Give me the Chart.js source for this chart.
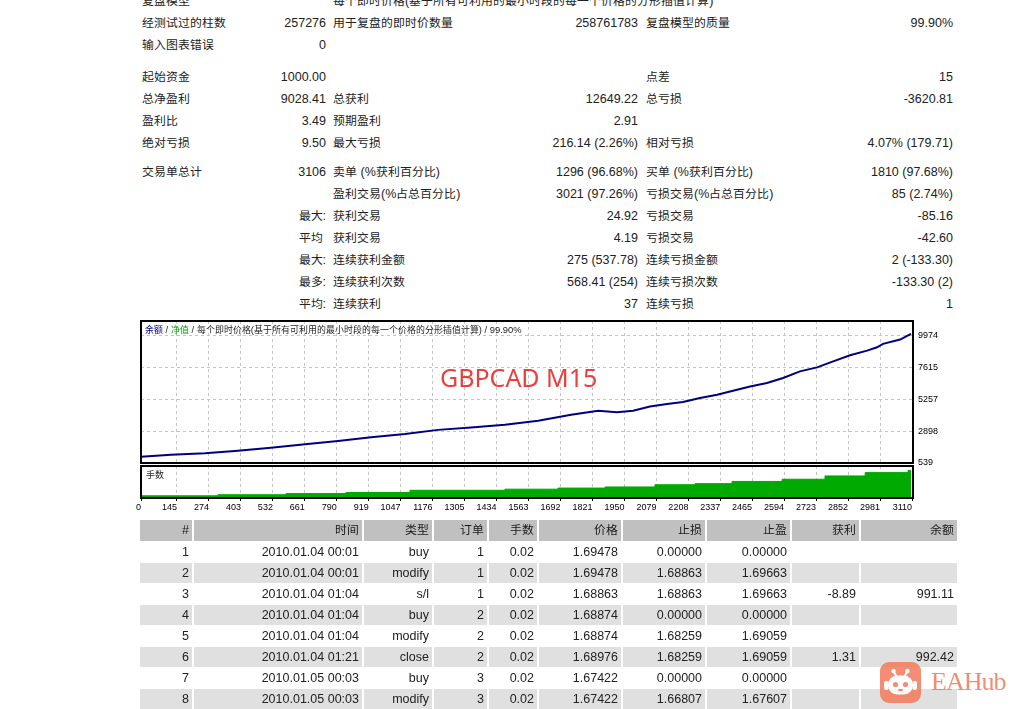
<!DOCTYPE html>
<html>
<head>
<meta charset="utf-8">
<script src="https://cdn.jsdelivr.net/npm/chart.js@4.4.1/dist/chart.umd.min.js"></script>
<style>
@font-face {
  font-family: "CjkAdj";
  src: local("Noto Sans CJK SC"), local("Noto Sans CJK SC Regular"), local("NotoSansCJKsc-Regular");
  size-adjust: 95%;
  unicode-range: U+2E80-9FFF, U+3000-303F, U+FF00-FFEF;
}
html, body { margin: 0; padding: 0; background: #fff; }
body {
  width: 1021px; height: 709px; overflow: hidden; position: relative;
  font: 12.5px "Liberation Sans", "CjkAdj", "Noto Sans CJK SC", sans-serif;
  color: #222;
}
.stats { position: absolute; left: 140px; top: -10px; border-collapse: collapse; table-layout: fixed; width: 816px; }
.stats td { height: 22px; line-height: 22px; padding: 0; white-space: nowrap; overflow: visible; }
.stats td.l1 { padding-left: 2px; }
.stats td.v1 { text-align: right; padding-right: 3px; }
.stats td.l2 { padding-left: 4px; }
.stats td.v2 { text-align: right; padding-right: 3px; }
.stats td.l3 { padding-left: 5px; }
.stats td.v3 { text-align: right; padding-right: 3px; }
.stats tr.sp td { height: 9.5px; line-height: 0; }
.stats tr.sp2 td { height: 7.5px; line-height: 0; }

.trades { position: absolute; left: 138px; top: 518.5px; border-collapse: separate; border-spacing: 2px 1px; table-layout: fixed; }
.trades td { height: 20px; line-height: 20px; padding: 0 3px 0 0; text-align: right; white-space: nowrap; }
.trades tr.hd td { height: 21px; line-height: 21px; background: #c0c0c0; color: #1a1a1a; }
.trades tr.g td { background: #e0e0e0; }

canvas { position: absolute; }
#balanceChart { left: 130px; top: 318px; }
#lotsChart { left: 130px; top: 462px; }
.ovl { position: absolute; white-space: nowrap; }
#legend { left: 145px; top: 324px; font-size: 9.4px; line-height: 12px; color: #222; }
#legend .b { color: #000080; }
#legend .e { color: #00a000; }
#symbol { left: 440px; top: 361px; font: 25px "Noto Sans", sans-serif; line-height: 32px; color: #e8403c; }
#lotsLabel { left: 146px; top: 469px; font-size: 9.4px; line-height: 12px; color: #222; }
#wm { position: absolute; left: 880px; top: 662px; opacity: 0.85; }
#wm span { position: absolute; left: 51px; top: 4px; font: 26px "Liberation Serif", serif; letter-spacing: -1px; color: #f0795a; line-height: 32px; }
</style>
</head>
<body>

<table class="stats">
<colgroup><col style="width:90px"><col style="width:99px"><col style="width:170px"><col style="width:142px"><col style="width:157px"><col style="width:158px"></colgroup>
<tr><td class="l1">复盘模型</td><td class="v1"></td><td class="l2" colspan="4">每个即时价格(基于所有可利用的最小时段的每一个价格的分形插值计算)</td></tr>
<tr><td class="l1">经测试过的柱数</td><td class="v1">257276</td><td class="l2">用于复盘的即时价数量</td><td class="v2">258761783</td><td class="l3">复盘模型的质量</td><td class="v3">99.90%</td></tr>
<tr><td class="l1">输入图表错误</td><td class="v1">0</td><td></td><td></td><td></td><td></td></tr>
<tr class="sp"><td colspan="6"></td></tr>
<tr><td class="l1">起始资金</td><td class="v1">1000.00</td><td></td><td></td><td class="l3">点差</td><td class="v3">15</td></tr>
<tr><td class="l1">总净盈利</td><td class="v1">9028.41</td><td class="l2">总获利</td><td class="v2">12649.22</td><td class="l3">总亏损</td><td class="v3">-3620.81</td></tr>
<tr><td class="l1">盈利比</td><td class="v1">3.49</td><td class="l2">预期盈利</td><td class="v2">2.91</td><td></td><td></td></tr>
<tr><td class="l1">绝对亏损</td><td class="v1">9.50</td><td class="l2">最大亏损</td><td class="v2">216.14 (2.26%)</td><td class="l3">相对亏损</td><td class="v3">4.07% (179.71)</td></tr>
<tr class="sp2"><td colspan="6"></td></tr>
<tr><td class="l1">交易单总计</td><td class="v1">3106</td><td class="l2">卖单 (%获利百分比)</td><td class="v2">1296 (96.68%)</td><td class="l3">买单 (%获利百分比)</td><td class="v3">1810 (97.68%)</td></tr>
<tr><td></td><td></td><td class="l2">盈利交易(%占总百分比)</td><td class="v2">3021 (97.26%)</td><td class="l3">亏损交易(%占总百分比)</td><td class="v3">85 (2.74%)</td></tr>
<tr><td></td><td class="v1">最大:</td><td class="l2">获利交易</td><td class="v2">24.92</td><td class="l3">亏损交易</td><td class="v3">-85.16</td></tr>
<tr><td></td><td class="v1">平均&nbsp;</td><td class="l2">获利交易</td><td class="v2">4.19</td><td class="l3">亏损交易</td><td class="v3">-42.60</td></tr>
<tr><td></td><td class="v1">最大:</td><td class="l2">连续获利金额</td><td class="v2">275 (537.78)</td><td class="l3">连续亏损金额</td><td class="v3">2 (-133.30)</td></tr>
<tr><td></td><td class="v1">最多:</td><td class="l2">连续获利次数</td><td class="v2">568.41 (254)</td><td class="l3">连续亏损次数</td><td class="v3">-133.30 (2)</td></tr>
<tr><td></td><td class="v1">平均:</td><td class="l2">连续获利</td><td class="v2">37</td><td class="l3">连续亏损</td><td class="v3">1</td></tr>
</table>

<canvas id="balanceChart" width="830" height="156"></canvas>
<canvas id="lotsChart" width="830" height="54"></canvas>
<div class="ovl" id="legend"><span class="b">余额</span> / <span class="e">净值</span> / 每个即时价格(基于所有可利用的最小时段的每一个价格的分形插值计算) / 99.90%</div>
<div class="ovl" id="symbol">GBPCAD M15</div>
<div class="ovl" id="lotsLabel">手数</div>

<table class="trades">
<colgroup><col style="width:52px"><col style="width:168px"><col style="width:68px"><col style="width:53px"><col style="width:48px"><col style="width:82px"><col style="width:82px"><col style="width:83px"><col style="width:67px"><col style="width:96px"></colgroup>
<tr class="hd"><td>#</td><td>时间</td><td>类型</td><td>订单</td><td>手数</td><td>价格</td><td>止损</td><td>止盈</td><td>获利</td><td>余额</td></tr>
<tr><td>1</td><td>2010.01.04 00:01</td><td>buy</td><td>1</td><td>0.02</td><td>1.69478</td><td>0.00000</td><td>0.00000</td><td></td><td></td></tr>
<tr class="g"><td>2</td><td>2010.01.04 00:01</td><td>modify</td><td>1</td><td>0.02</td><td>1.69478</td><td>1.68863</td><td>1.69663</td><td></td><td></td></tr>
<tr><td>3</td><td>2010.01.04 01:04</td><td>s/l</td><td>1</td><td>0.02</td><td>1.68863</td><td>1.68863</td><td>1.69663</td><td>-8.89</td><td>991.11</td></tr>
<tr class="g"><td>4</td><td>2010.01.04 01:04</td><td>buy</td><td>2</td><td>0.02</td><td>1.68874</td><td>0.00000</td><td>0.00000</td><td></td><td></td></tr>
<tr><td>5</td><td>2010.01.04 01:04</td><td>modify</td><td>2</td><td>0.02</td><td>1.68874</td><td>1.68259</td><td>1.69059</td><td></td><td></td></tr>
<tr class="g"><td>6</td><td>2010.01.04 01:21</td><td>close</td><td>2</td><td>0.02</td><td>1.68976</td><td>1.68259</td><td>1.69059</td><td>1.31</td><td>992.42</td></tr>
<tr><td>7</td><td>2010.01.05 00:03</td><td>buy</td><td>3</td><td>0.02</td><td>1.67422</td><td>0.00000</td><td>0.00000</td><td></td><td></td></tr>
<tr class="g"><td>8</td><td>2010.01.05 00:03</td><td>modify</td><td>3</td><td>0.02</td><td>1.67422</td><td>1.66807</td><td>1.67607</td><td></td><td></td></tr>
</table>

<div id="wm">
<svg width="41" height="41" viewBox="0 0 41 41">
  <rect x="0" y="0" width="41" height="41" rx="9" fill="#f47a5c"/>
  <path d="M14 10 L16.5 14.5 M27 10 L24.5 14.5" stroke="#fff" stroke-width="2"/>
  <circle cx="13.5" cy="9" r="2.2" fill="#fff"/>
  <circle cx="27.5" cy="9" r="2.2" fill="#fff"/>
  <rect x="8" y="13.5" width="25" height="19" rx="9" fill="#fff"/>
  <rect x="4" y="19" width="4.5" height="9" rx="2" fill="#fff"/>
  <rect x="32.5" y="19" width="4.5" height="9" rx="2" fill="#fff"/>
  <circle cx="15.5" cy="22.5" r="2.6" fill="#f47a5c"/>
  <circle cx="25.5" cy="22.5" r="2.6" fill="#f47a5c"/>
  <rect x="18" y="27" width="5" height="2" rx="1" fill="#f47a5c"/>
</svg>
<span>EAHub</span>
</div>

<script>
// x axis (trade number) tick labels
const xTicks = [0, 145, 274, 403, 532, 661, 790, 919, 1047, 1176, 1305, 1434, 1563, 1692, 1821,
  1950, 2079, 2208, 2337, 2465, 2594, 2723, 2852, 2981, 3110];
// balance axis tick labels
const yTicks = [539, 2898, 5257, 7615, 9974];

// balance curve
const tradeNo = [0, 121, 258, 391, 524, 662, 795, 928, 1065, 1198, 1331, 1468, 1602, 1735, 1844,
  1920, 1985, 2053, 2122, 2186, 2255, 2324, 2388, 2457, 2525, 2590, 2658, 2727, 2792, 2860,
  2929, 2969, 2993, 3062, 3106];
const balance = [1000, 1156, 1260, 1453, 1676, 1928, 2173, 2448, 2693, 2991, 3161, 3362, 3659, 4105, 4402,
  4305, 4402, 4722, 4900, 5048, 5346, 5591, 5888, 6207, 6460, 6831, 7322, 7619, 8065, 8510,
  8859, 9105, 9357, 9677, 10100];

// lot size, by trade number where it changes
const lotsAt = [0, 311, 585, 827, 1085, 1468, 1682, 1872, 2073, 2235, 2384, 2586, 2759, 2921, 3094, 3106];
const lots = [0.02, 0.03, 0.04, 0.05, 0.07, 0.08, 0.09, 0.10, 0.12, 0.13, 0.15, 0.17, 0.20, 0.23, 0.25, 0.25];

const gridColor = '#c4c4c4';
const tickFont = { family: 'Liberation Sans', size: 9 };

// black frame round each plot
const boxPlugin = {
  id: 'box',
  afterDraw(chart) {
    const { ctx, chartArea: a } = chart;
    const l = Math.round(a.left), t = Math.round(a.top);
    const r = Math.round(a.right), b = Math.round(a.bottom);
    ctx.save();
    ctx.strokeStyle = '#000';
    ctx.lineWidth = 2;
    ctx.strokeRect(l, t, r - l, b - t);
    ctx.restore();
  },
};

function noPad(s) {
  s.paddingTop = 0; s.paddingBottom = 0; s.paddingLeft = 0; s.paddingRight = 0;
}

function xScale(extra) {
  return Object.assign({
    type: 'linear',
    min: 0,
    max: 3114,
    afterBuildTicks: (s) => { s.ticks = xTicks.map((v) => ({ value: v })); },
    border: { display: false, dash: [3, 3] },
  }, extra);
}

new Chart(document.getElementById('balanceChart'), {
  type: 'line',
  data: {
    datasets: [{
      data: tradeNo.map((t, i) => ({ x: t, y: balance[i] })),
      borderColor: '#00007f',
      borderWidth: 2,
      pointRadius: 0,
      tension: 0,
    }],
  },
  options: {
    responsive: false,
    animation: false,
    layout: { padding: { left: 11, top: 3, right: 0, bottom: 11 } },
    plugins: { legend: { display: false }, tooltip: { enabled: false } },
    scales: {
      x: xScale({
        ticks: { display: false },
        grid: { color: gridColor, drawTicks: false },
        afterFit: (s) => { s.height = 0; noPad(s); },
      }),
      y: {
        position: 'right',
        min: 539,
        max: 11050,
        afterBuildTicks: (s) => { s.ticks = yTicks.map((v) => ({ value: v })); },
        afterFit: (s) => { s.width = 47; noPad(s); },
        ticks: { font: tickFont, color: '#000', padding: 5, callback: (v) => String(v) },
        grid: { color: gridColor, drawTicks: false },
        border: { display: false, dash: [3, 3] },
      },
    },
  },
  plugins: [boxPlugin],
});

new Chart(document.getElementById('lotsChart'), {
  type: 'line',
  data: {
    datasets: [{
      data: lotsAt.map((t, i) => ({ x: t, y: lots[i] })),
      stepped: 'before',
      fill: 'origin',
      backgroundColor: '#00aa00',
      borderColor: '#00aa00',
      borderWidth: 1,
      pointRadius: 0,
    }],
  },
  options: {
    responsive: false,
    animation: false,
    layout: { padding: { left: 11, top: 4, right: 47, bottom: 0 } },
    plugins: { legend: { display: false }, tooltip: { enabled: false } },
    scales: {
      x: xScale({
        ticks: { font: tickFont, color: '#000', align: 'end', padding: 1, maxRotation: 0, autoSkip: false, callback: (v) => String(v) },
        grid: { color: gridColor, tickLength: 3, tickColor: '#000' },
        afterFit: (s) => { s.height = 18; noPad(s); },
      }),
      y: { display: false, min: 0, max: 0.29 },
    },
  },
  plugins: [boxPlugin],
});
</script>
</body>
</html>
